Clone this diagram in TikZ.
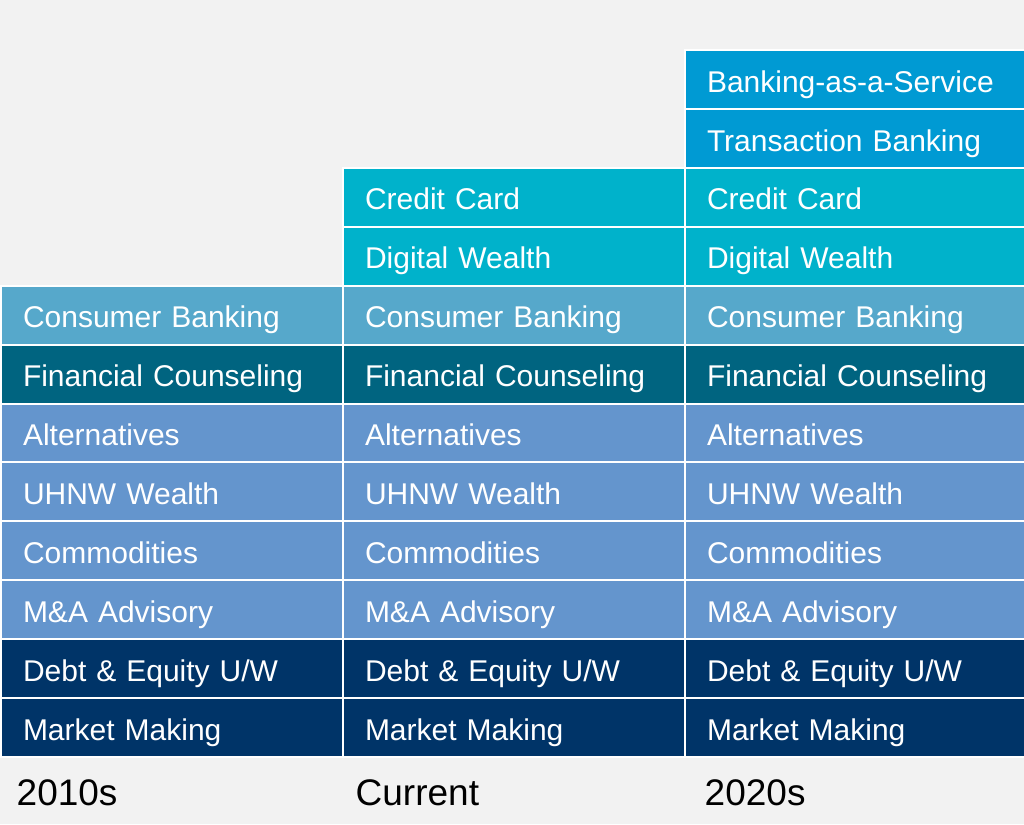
\documentclass[tikz,border=0pt]{standalone}
\usepackage{fontspec}
\setmainfont{Liberation Sans}

\definecolor{bgGray}{HTML}{F2F2F2}
\definecolor{navyBlue}{HTML}{003468}
\definecolor{midBlue}{HTML}{6495CD}
\definecolor{darkTeal}{HTML}{006480}
\definecolor{lightBlue}{HTML}{56A8CB}
\definecolor{cyanBlue}{HTML}{00B2CB}
\definecolor{skyBlue}{HTML}{009AD3}

\tikzset{
  cell/.style={draw=white, line width=2pt, anchor=south west, text=white,
    minimum height=58.9pt, inner xsep=22pt, inner ysep=0pt, text width=298pt,
    align=left, text height=25pt, text depth=0pt,
    font=\fontsize{30}{36}\selectfont},
  era/.style={anchor=west, inner sep=0pt, text height=26.5pt, text depth=0pt,
    font=\fontsize{37}{44}\selectfont}
}

\begin{document}
\begin{tikzpicture}[x=1pt,y=1pt]
	% Background
	\fill[bgGray] (0,0) rectangle (1024,824);
	\useasboundingbox (0,0) rectangle (1024,824);
	
	% Stack the business lines, column by column
	\foreach \row/\lbl/\clr in {0/Market Making/navyBlue, 1/{Debt \& Equity U/W}/navyBlue,
		2/M\&A Advisory/midBlue, 3/Commodities/midBlue, 4/UHNW Wealth/midBlue,
		5/Alternatives/midBlue, 6/Financial Counseling/darkTeal, 7/Consumer Banking/lightBlue,
		8/Digital Wealth/cyanBlue, 9/Credit Card/cyanBlue, 10/Transaction Banking/skyBlue,
		11/Banking-as-a-Service/skyBlue}
	\foreach \col/\toprow in {1/7, 2/9, 3/11}
	{
		\ifnum\row>\toprow\relax\else
		\node[cell, fill=\clr] (c\col r\row) at ({342*(\col-1)}, {66+58.9*\row}) {\lbl};
		\fi
	}
	
	% Label the columns
	\node[era] (era2010s) at (16.5,31.6) {2010s};
	\node[era] (eraCurrent) at (355.5,31.6) {Current};
	\node[era] (era2020s) at (704.5,31.6) {2020s};
\end{tikzpicture}
\end{document}
